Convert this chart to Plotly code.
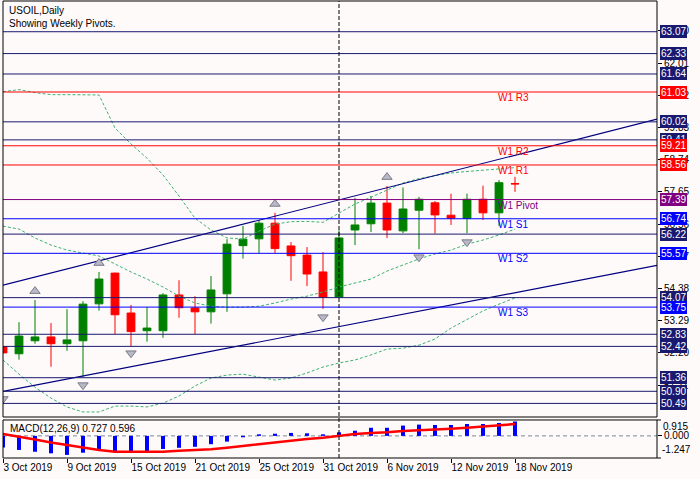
import plotly.graph_objects as go

# ---------------- data ----------------
dates = ["3 Oct", "4 Oct", "7 Oct", "8 Oct", "9 Oct", "10 Oct", "11 Oct", "14 Oct", "15 Oct",
         "16 Oct", "17 Oct", "18 Oct", "21 Oct", "22 Oct", "23 Oct", "24 Oct", "25 Oct", "28 Oct",
         "29 Oct", "30 Oct", "31 Oct", "1 Nov", "4 Nov", "5 Nov", "6 Nov", "7 Nov", "8 Nov",
         "11 Nov", "12 Nov", "13 Nov", "14 Nov", "15 Nov", "18 Nov"]
year = "2019"

open_ = [52.41, 52.17, 52.61, 52.74, 52.51, 52.61, 53.86, 54.90, 53.55, 52.95, 52.95, 54.16, 53.72,
         53.59, 54.20, 55.83, 56.06, 56.59, 55.82, 55.51, 54.94, 54.09, 56.36, 56.57, 57.27, 56.33,
         57.03, 57.28, 56.86, 56.75, 57.40, 56.94, 57.93]
high = [52.43, 53.24, 53.99, 53.21, 53.68, 53.95, 54.94, 54.92, 53.82, 53.75, 54.22, 54.66, 54.12,
        54.80, 56.05, 56.50, 56.70, 56.94, 55.95, 55.78, 55.61, 56.35, 57.45, 57.51, 57.85, 57.80,
        57.48, 57.34, 57.59, 57.59, 57.86, 58.05, 58.16]
low = [52.18, 51.97, 52.51, 51.73, 52.27, 51.39, 53.63, 52.84, 52.43, 52.58, 52.71, 53.39, 52.84,
       53.19, 53.59, 55.39, 55.58, 55.58, 54.64, 54.46, 53.69, 54.07, 55.85, 56.29, 56.09, 56.25,
       55.71, 56.24, 56.53, 56.25, 56.70, 56.49, 57.65]
close = [52.20, 52.77, 52.74, 52.51, 52.64, 53.85, 54.70, 53.49, 52.92, 53.04, 54.16, 53.73, 53.59,
         54.33, 55.88, 56.05, 56.59, 55.73, 55.49, 54.87, 54.09, 56.09, 56.53, 57.27, 56.36, 57.07,
         57.40, 56.87, 56.76, 57.40, 56.94, 57.96, 57.92]

bb_upper = [61.04, 61.11, 61.01, 60.94, 60.94, 60.94, 60.93, 59.81, 59.27, 58.79, 58.22, 57.51, 56.76,
            56.36, 56.09, 56.05, 56.32, 56.56, 56.64, 56.65, 56.62, 56.93, 57.24, 57.47, 57.71, 57.95,
            58.10, 58.20, 58.29, 58.34, 58.39, 58.42, 58.47]
bb_middle = [56.49, 56.39, 56.09, 55.85, 55.68, 55.58, 55.48, 55.21, 54.94, 54.70, 54.43, 54.12, 53.89,
             53.78, 53.75, 53.75, 53.78, 53.89, 54.02, 54.12, 54.26, 54.43, 54.56, 54.70, 54.97, 55.17,
             55.38, 55.55, 55.68, 55.88, 56.02, 56.19, 56.39]
bb_lower = [51.96, 51.48, 51.04, 50.67, 50.37, 50.20, 50.20, 50.40, 50.40, 50.37, 50.50, 50.74, 51.08,
            51.35, 51.45, 51.48, 51.38, 51.28, 51.35, 51.52, 51.72, 51.86, 51.96, 52.13, 52.33, 52.36,
            52.46, 52.67, 53.04, 53.34, 53.62, 53.85, 54.06]

macd_main = [-0.58, -0.71, -0.80, -0.88, -0.96, -0.85, -0.68, -0.80, -0.80, -0.80, -0.66, -0.60, -0.55,
             -0.42, -0.29, -0.07, 0.08, 0.11, 0.15, 0.13, 0.08, 0.18, 0.26, 0.41, 0.41, 0.52, 0.57,
             0.55, 0.55, 0.60, 0.60, 0.65, 0.727]
macd_signal = [0.10, -0.03, -0.18, -0.33, -0.46, -0.60, -0.71, -0.80, -0.80, -0.80, -0.80, -0.75, -0.71,
               -0.68, -0.60, -0.51, -0.42, -0.32, -0.24, -0.16, -0.09, 0.02, 0.10, 0.15, 0.18, 0.25,
               0.28, 0.32, 0.36, 0.41, 0.46, 0.54, 0.596]
macd_scale_max = 0.915
macd_scale_min = -1.247

fractal_up_bars = [2, 6, 17, 24]
fractal_up_marks = [54.29, 55.24, 57.24, 58.15]
fractal_dn_bars = [0, 5, 8, 20, 26, 29]
fractal_dn_marks = [50.64, 51.11, 52.19, 53.41, 55.44, 55.95]

trend_upper_bars = [0, 40.875]
trend_upper_prices = [54.49, 60.11]
trend_lower_bars = [0, 40.875]
trend_lower_prices = [50.90, 55.16]

weekly_names = ["W1 R3", "W1 R2", "W1 R1", "W1 Pivot", "W1 S1", "W1 S2", "W1 S3"]
weekly_values = [61.03, 59.21, 58.56, 57.39, 56.74, 55.57, 53.75]
other_levels = [63.07, 62.33, 61.64, 60.02, 59.41, 56.22, 54.07, 52.83, 52.42, 51.36, 50.90, 50.49]

price_ticks = [63.10, 62.01, 60.92, 59.83, 58.74, 57.65, 56.56, 55.47, 54.38, 53.29, 52.20, 51.11]

# ---------------- style ----------------
BG = "#fffafa"
GREEN = "#008000"
RED = "#ff0000"
PURPLE = "#800080"
BLUE = "#0000ff"
NAVY = "#191970"
TREND = "#000080"
BBC = "#3cb371"
FONT = "Liberation Sans, Arial, sans-serif"

idx = list(range(len(dates)))
X_RANGE = [0, 40.875]
Y_RANGE = [50.03, 64.11]
Y2_RANGE = [-1.116, 0.803]
MAIN_DOM = [0.0897, 1.0]
MACD_DOM = [0.0, 0.0832]


def level_color(name):
    if " R" in name:
        return RED
    if "Pivot" in name:
        return PURPLE
    return BLUE


fig = go.Figure()

# Bollinger bands
for series in (bb_upper, bb_middle, bb_lower):
    fig.add_trace(go.Scatter(x=idx, y=series, mode="lines", xaxis="x", yaxis="y",
                             line=dict(color=BBC, width=1, dash="3px,2px"), hoverinfo="skip"))

# trend lines
fig.add_trace(go.Scatter(x=trend_upper_bars, y=trend_upper_prices, mode="lines", xaxis="x", yaxis="y",
                         line=dict(color=TREND, width=1.2), hoverinfo="skip"))
fig.add_trace(go.Scatter(x=trend_lower_bars, y=trend_lower_prices, mode="lines", xaxis="x", yaxis="y",
                         line=dict(color=TREND, width=1.2), hoverinfo="skip"))

# candles
fig.add_trace(go.Candlestick(
    x=idx, open=open_, high=high, low=low, close=close, xaxis="x", yaxis="y",
    increasing=dict(line=dict(color=GREEN, width=1), fillcolor=GREEN),
    decreasing=dict(line=dict(color=RED, width=1), fillcolor=RED),
    whiskerwidth=0, hoverinfo="skip"))

# fractals
fig.add_trace(go.Scatter(x=fractal_up_bars, y=fractal_up_marks, mode="markers", xaxis="x", yaxis="y",
                         marker=dict(symbol="triangle-up", size=9, color="#b8b8c6",
                                     line=dict(color="#7a7a8a", width=1)), hoverinfo="skip"))
fig.add_trace(go.Scatter(x=fractal_dn_bars, y=fractal_dn_marks, mode="markers", xaxis="x", yaxis="y",
                         marker=dict(symbol="triangle-down", size=9, color="#b8b8c6",
                                     line=dict(color="#7a7a8a", width=1)), hoverinfo="skip"))

# MACD
fig.add_trace(go.Bar(x=idx, y=macd_main, width=0.25, marker=dict(color=BLUE, line=dict(width=0)),
                     xaxis="x", yaxis="y2", hoverinfo="skip"))
fig.add_trace(go.Scatter(x=idx, y=macd_signal, mode="lines", xaxis="x", yaxis="y2",
                         line=dict(color=RED, width=2.5), hoverinfo="skip"))

shapes = []
annotations = []

# horizontal levels
for v in other_levels:
    shapes.append(dict(type="line", xref="paper", x0=0, x1=1, yref="y", y0=v, y1=v,
                       line=dict(color=NAVY, width=1), layer="above"))
for name, v in zip(weekly_names, weekly_values):
    shapes.append(dict(type="line", xref="paper", x0=0, x1=1, yref="y", y0=v, y1=v,
                       line=dict(color=level_color(name), width=1), layer="above"))

# period separator (first bar of the new month)
sep_idx = next(i for i, d in enumerate(dates) if d.endswith("Nov"))
shapes.append(dict(type="line", xref="x", x0=sep_idx, x1=sep_idx, yref="paper", y0=0, y1=1,
                   line=dict(color="black", width=1, dash="4px,2px"), layer="above"))

# MACD zero line
shapes.append(dict(type="line", xref="paper", x0=0, x1=1, yref="y2", y0=0, y1=0,
                   line=dict(color="#778899", width=1, dash="4px,3px"), layer="below"))

# panel frames
shapes.append(dict(type="rect", xref="paper", yref="paper", x0=0, x1=1, y0=MAIN_DOM[0], y1=MAIN_DOM[1],
                   line=dict(color="black", width=1), fillcolor="rgba(0,0,0,0)", layer="above"))
shapes.append(dict(type="rect", xref="paper", yref="paper", x0=0, x1=1, y0=MACD_DOM[0], y1=MACD_DOM[1],
                   line=dict(color="black", width=1), fillcolor="rgba(0,0,0,0)", layer="above"))

# small scale ticks for the MACD max/min labels
for yp, ys in ((MACD_DOM[1], -2), (MACD_DOM[0], 5)):
    shapes.append(dict(type="line", xref="paper", x0=1, x1=1.006, yref="paper", y0=yp, y1=yp,
                       ysizemode="scaled", line=dict(color="black", width=1)))


# level price boxes on the right scale
def price_box(v, color):
    return dict(xref="paper", x=1, xshift=3, xanchor="left", yref="y", y=v, yanchor="middle",
                text=f"{v:.2f}", showarrow=False, bgcolor=color, borderpad=1, borderwidth=0,
                height=11, align="center",
                font=dict(family=FONT, size=10, color="white"))


for v in other_levels:
    annotations.append(price_box(v, NAVY))
for name, v in zip(weekly_names, weekly_values):
    annotations.append(price_box(v, level_color(name)))

# weekly pivot names
for name, v in zip(weekly_names, weekly_values):
    annotations.append(dict(xref="x", x=30.9, xanchor="left", yref="y", y=v, yanchor="top", yshift=1,
                            text=name, showarrow=False, borderpad=0,
                            font=dict(family=FONT, size=10, color=level_color(name))))

# titles
annotations.append(dict(xref="paper", x=0, xshift=4, xanchor="left", yref="paper", y=1, yshift=-2,
                        yanchor="top", align="left", showarrow=False,
                        text="USOIL,Daily<br>Showing Weekly Pivots.",
                        font=dict(family=FONT, size=10, color="black")))
annotations.append(dict(xref="paper", x=0, xshift=5, xanchor="left", yref="paper", y=MACD_DOM[1],
                        yshift=-1, yanchor="top", showarrow=False,
                        text=f"MACD(12,26,9) {macd_main[-1]:.3f} {macd_signal[-1]:.3f}",
                        font=dict(family=FONT, size=10, color="black")))

# MACD scale labels (window max / min)
annotations.append(dict(xref="paper", x=1, xshift=4, xanchor="left", yref="paper", y=MACD_DOM[1],
                        yshift=1, yanchor="top", showarrow=False, text=f"{macd_scale_max:.3f}",
                        font=dict(family=FONT, size=10, color="black")))
annotations.append(dict(xref="paper", x=1, xshift=3, xanchor="left", yref="paper", y=MACD_DOM[0],
                        yshift=1, yanchor="bottom", showarrow=False, text=f"{macd_scale_min:.3f}",
                        font=dict(family=FONT, size=10, color="black")))

tick_idx = [i for i in idx if i % 4 == 0]
tick_txt = [f"{dates[i]} {year}" for i in tick_idx]

fig.update_layout(
    width=700, height=479,
    margin=dict(l=3, r=43, t=1, b=21, autoexpand=False),
    paper_bgcolor=BG, plot_bgcolor=BG,
    showlegend=False,
    font=dict(family=FONT, size=10, color="black"),
    shapes=shapes, annotations=annotations,
    hovermode=False,
    xaxis=dict(range=X_RANGE, anchor="y2", showgrid=False, zeroline=False, showline=False,
               automargin=False, tickangle=0,
               tickvals=tick_idx, ticktext=tick_txt, ticks="outside", ticklen=4, tickcolor="black",
               ticklabelposition="outside right", rangeslider=dict(visible=False),
               tickfont=dict(family=FONT, size=10, color="black")),
    yaxis=dict(domain=MAIN_DOM, range=Y_RANGE, side="right", anchor="x", showgrid=False,
               automargin=False,
               zeroline=False, showline=False, tickvals=price_ticks,
               ticktext=[f"{t:.2f}" for t in price_ticks], ticks="outside", ticklen=4,
               tickcolor="black", tickfont=dict(family=FONT, size=10, color="black")),
    yaxis2=dict(domain=MACD_DOM, range=Y2_RANGE, side="right", anchor="x", showgrid=False,
                automargin=False,
                zeroline=False, showline=False, tickvals=[0], ticktext=["0.000"], ticks="outside",
                ticklen=4, tickcolor="black", tickfont=dict(family=FONT, size=10, color="black")),
)

fig.write_html(
    "out.html",
    config={"displayModeBar": False, "staticPlot": True},
    post_script="document.body.style.margin='0';document.body.style.overflow='hidden';",
)
